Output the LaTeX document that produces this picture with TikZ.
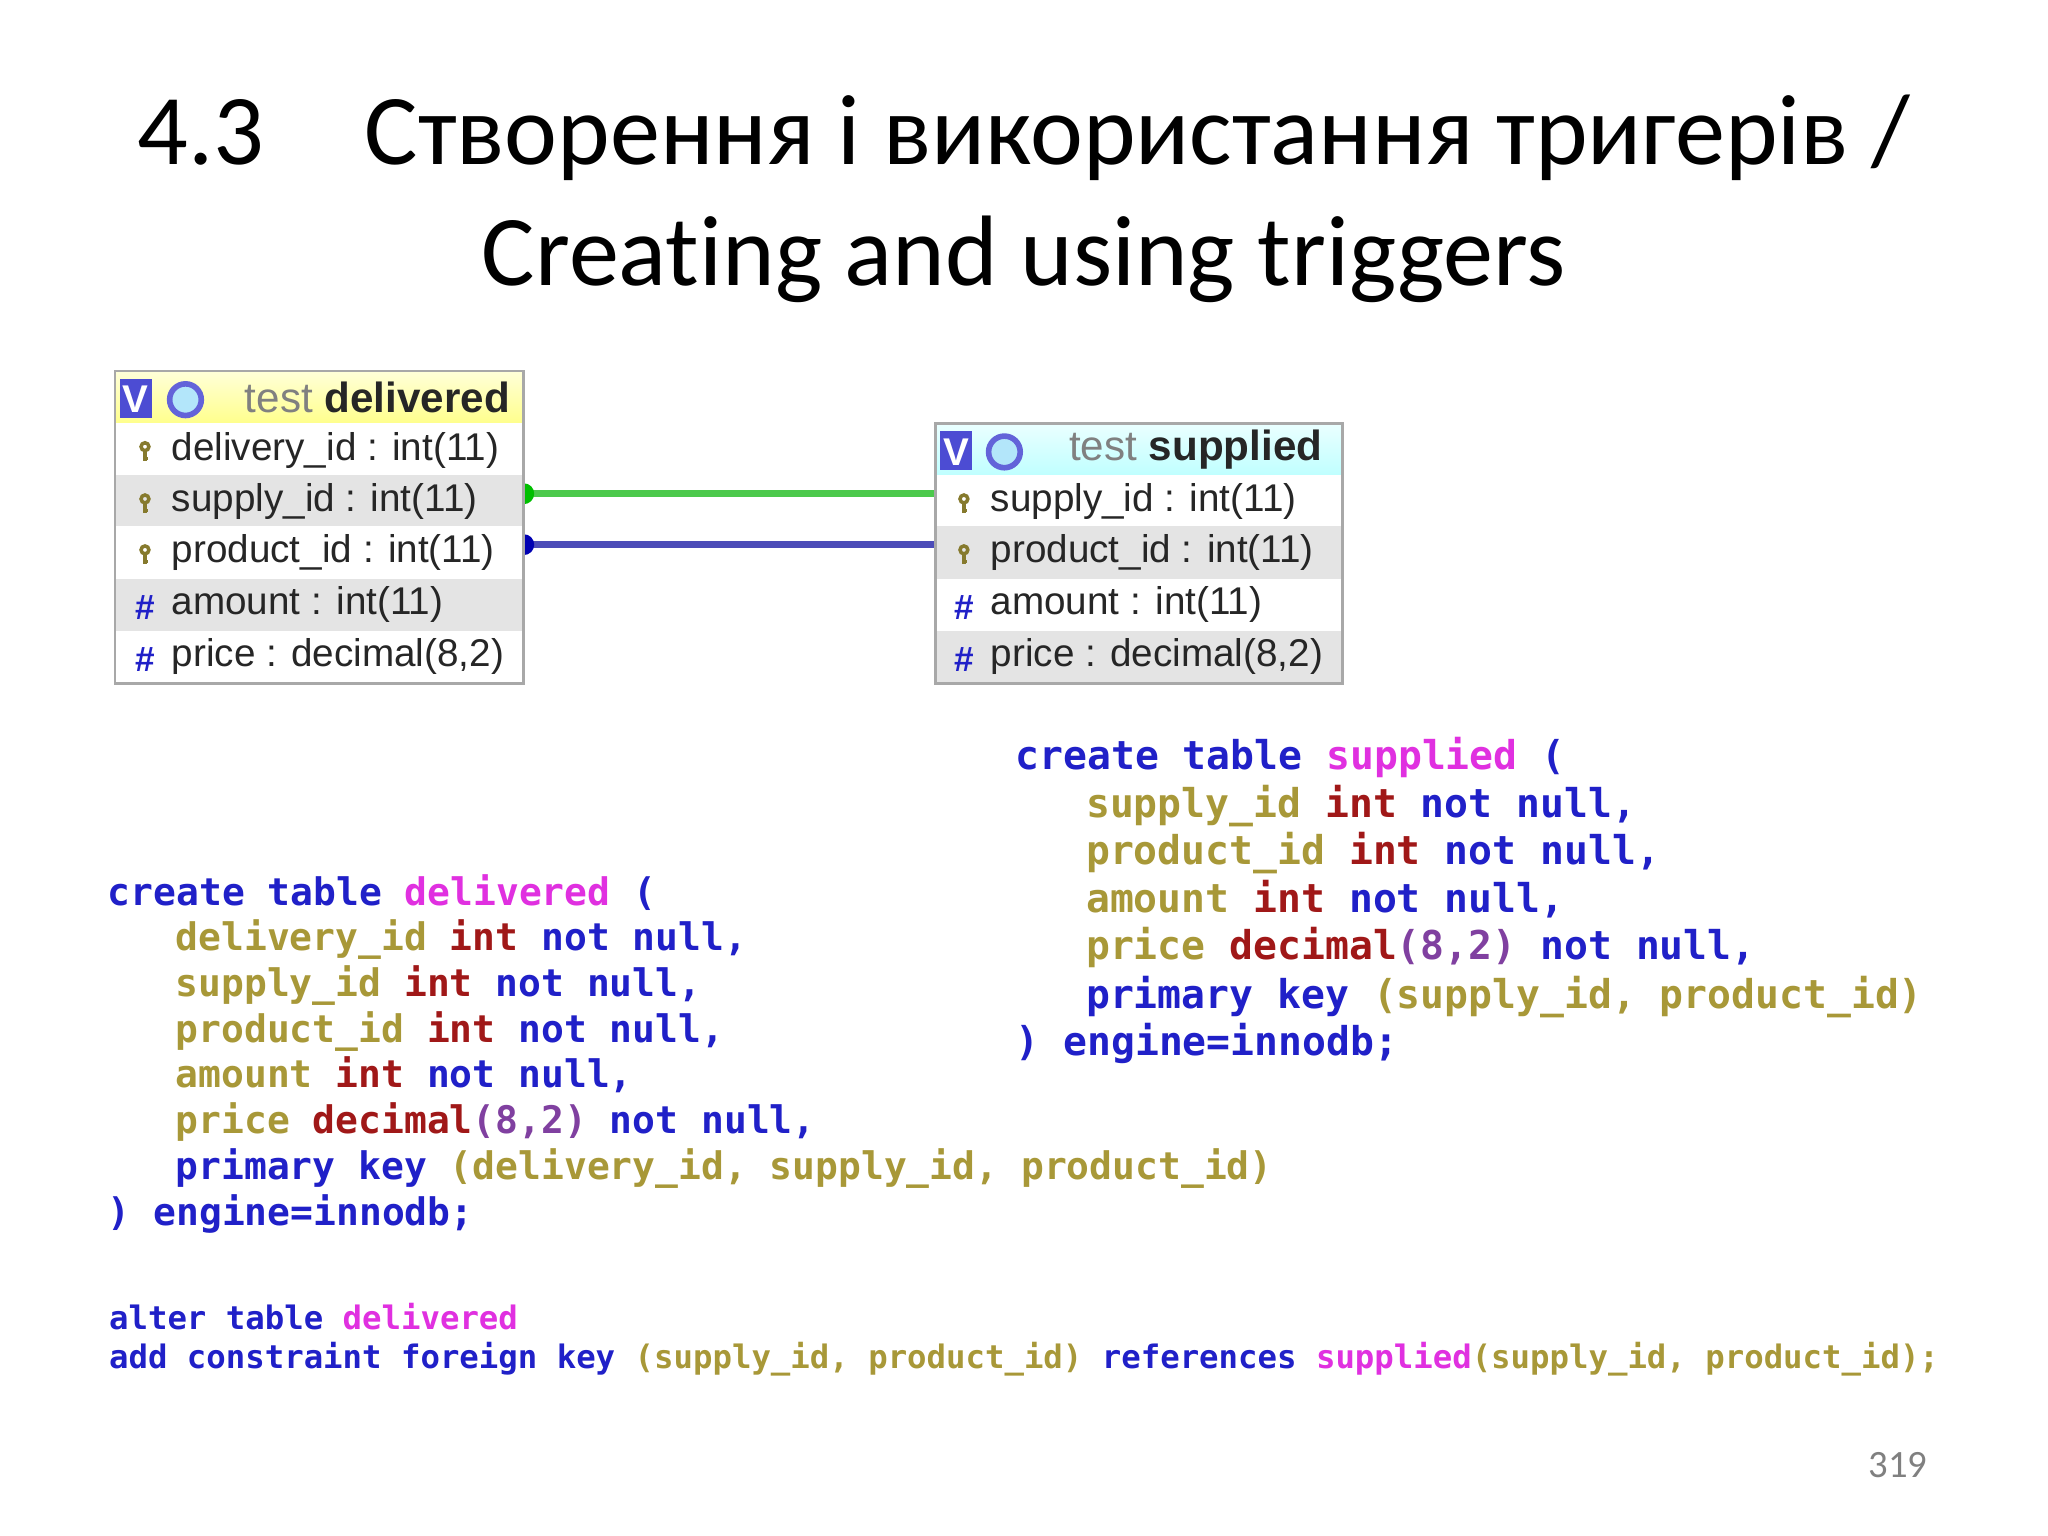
\documentclass[tikz,border=0pt]{standalone}
\usepackage{fontspec}
\setmainfont{Carlito}[Ligatures={NoCommon}]
\newfontfamily\tabfont{Liberation Sans}
\newfontfamily\codefont{DejaVu Sans Mono}
\definecolor{kwc}{HTML}{2020C8}
\definecolor{idc}{HTML}{A89838}
\definecolor{tnc}{HTML}{E030E0}
\definecolor{tyc}{HTML}{A01818}
\definecolor{nmc}{HTML}{8040A0}
\definecolor{rowg}{HTML}{E4E4E4}
\definecolor{brd}{HTML}{A8A8A8}
\newcommand{\kw}[1]{\textcolor{kwc}{#1}}
\newcommand{\idn}[1]{\textcolor{idc}{#1}}
\newcommand{\tn}[1]{\textcolor{tnc}{#1}}
\newcommand{\ty}[1]{\textcolor{tyc}{#1}}
\newcommand{\nm}[1]{\textcolor{nmc}{#1}}
\tikzset{
 cl/.style={anchor=base west,inner sep=0,font=\codefont\bfseries\fontsize{10.8pt}{12pt}\selectfont},
 cls/.style={anchor=base west,inner sep=0,font=\codefont\bfseries\fontsize{11.3pt}{12pt}\selectfont},
 cla/.style={anchor=base west,inner sep=0,font=\codefont\bfseries\fontsize{9.2pt}{11pt}\selectfont},
 rt/.style={anchor=west,inner sep=0,font=\tabfont\fontsize{11pt}{12pt}\selectfont,text=black!85},
 hash/.style={anchor=center,inner sep=0,font=\tabfont\bfseries\fontsize{10pt}{12pt}\selectfont,text=kwc},
 gear/.style={draw=kwc!70,fill=cyan!30,circle,line width=1.6pt,minimum size=9pt,inner sep=0},
}
\newcommand{\keyicon}[1]{\draw[idc!80!black,line width=1pt] (#1) ++(0,-4) circle[radius=3]; \draw[idc!80!black,line width=1pt] (#1) ++(0,-1) -- ++(0,8) ++(0,-2) -- ++(2,0);}
\begin{document}
\begin{tikzpicture}[x=0.01306cm,y=-0.01306cm]
\useasboundingbox (0,0) rectangle (1568,1176);
\fill[white] (0,0) rectangle (1568,1176);
\node[font=\fontsize{28.5pt}{34.5pt}\selectfont,align=center] (title) at (784,152) {4.3\quad Створення і використання тригерів /\\Creating and using triggers};
% connectors (drawn first, tables cover the left half of the dots)
\coordinate (ga) at (401,378); \coordinate (gb) at (716,378);
\coordinate (ba) at (401,417); \coordinate (bb) at (716,417);
\draw[green!70!black!70,line width=2pt] (ga) -- (gb);
\fill[green!75!black] (ga) circle[radius=8];
\draw[blue!60!black!70,line width=2pt] (ba) -- (bb);
\fill[blue!70!black] (ba) circle[radius=8];
% delivered table
\shade[top color=yellow!15,bottom color=yellow!45] (88,284) rectangle (401,324);
\fill[white] (88,324) rectangle (401,364);
\fill[rowg] (88,364) rectangle (401,403);
\fill[white] (88,403) rectangle (401,443);
\fill[rowg] (88,443) rectangle (401,483);
\fill[white] (88,483) rectangle (401,523);
\draw[brd,line width=0.8pt] (88,284) rectangle (401,523);
\fill[kwc!80] (92,290) rectangle (116,320);
\node[text=white,font=\tabfont\bfseries\fontsize{11pt}{12pt}\selectfont] (dv) at (104,306) {V};
\node[gear] (dg) at (142,306) {};
\node[rt,font=\tabfont\fontsize{12pt}{13pt}\selectfont] (dh) at (187,304) {\textcolor{gray}{test} \textbf{delivered}};
\coordinate (k1) at (111,346); \keyicon{k1}
\coordinate (k2) at (111,386); \keyicon{k2}
\coordinate (k3) at (111,425); \keyicon{k3}
\node[rt] (d1) at (131,345) {delivery\_id : int(11)};
\node[rt] (d2) at (131,384) {supply\_id : int(11)};
\node[rt] (d3) at (131,423) {product\_id : int(11)};
\node[hash] (h4) at (111,465) {\#};
\node[rt] (d4) at (131,463) {amount : int(11)};
\node[hash] (h5) at (111,505) {\#};
\node[rt] (d5) at (131,503) {price : decimal(8,2)};
% supplied table
\shade[top color=cyan!8,bottom color=cyan!25] (716,324) rectangle (1028,364);
\fill[white] (716,364) rectangle (1028,403);
\fill[rowg] (716,403) rectangle (1028,443);
\fill[white] (716,443) rectangle (1028,483);
\fill[rowg] (716,483) rectangle (1028,523);
\draw[brd,line width=0.8pt] (716,324) rectangle (1028,523);
\fill[kwc!80] (720,330) rectangle (744,360);
\node[text=white,font=\tabfont\bfseries\fontsize{11pt}{12pt}\selectfont] (sv) at (732,346) {V};
\node[gear] (sg) at (769,346) {};
\node[rt,font=\tabfont\fontsize{12pt}{13pt}\selectfont] (sh) at (818,344) {\textcolor{gray}{test} \textbf{supplied}};
\coordinate (k4) at (738,386); \keyicon{k4}
\coordinate (k5) at (738,425); \keyicon{k5}
\node[rt] (s1) at (758,384) {supply\_id : int(11)};
\node[rt] (s2) at (758,423) {product\_id : int(11)};
\node[hash] (h6) at (738,465) {\#};
\node[rt] (s3) at (758,463) {amount : int(11)};
\node[hash] (h7) at (738,505) {\#};
\node[rt] (s4) at (758,503) {price : decimal(8,2)};
% code delivered
\node[cl] (c1) at (82,693) {\kw{create table} \tn{delivered} \kw{(}};
\node[cl] (c2) at (134,728) {\idn{delivery\_id} \ty{int} \kw{not null,}};
\node[cl] (c3) at (134,763) {\idn{supply\_id} \ty{int} \kw{not null,}};
\node[cl] (c4) at (134,798) {\idn{product\_id} \ty{int} \kw{not null,}};
\node[cl] (c5) at (134,833) {\idn{amount} \ty{int} \kw{not null,}};
\node[cl] (c6) at (134,868) {\idn{price} \ty{decimal}\nm{(8,2)} \kw{not null,}};
\node[cl] (c7) at (134,903) {\kw{primary key} \idn{(delivery\_id, supply\_id, product\_id)}};
\node[cl] (c8) at (82,938) {\kw{) engine=innodb;}};
% code supplied
\node[cls] (e1) at (777,589) {\kw{create table} \tn{supplied} \kw{(}};
\node[cls] (e2) at (831,626) {\idn{supply\_id} \ty{int} \kw{not null,}};
\node[cls] (e3) at (831,662) {\idn{product\_id} \ty{int} \kw{not null,}};
\node[cls] (e4) at (831,699) {\idn{amount} \ty{int} \kw{not null,}};
\node[cls] (e5) at (831,735) {\idn{price} \ty{decimal}\nm{(8,2)} \kw{not null,}};
\node[cls] (e6) at (831,772) {\kw{primary key} \idn{(supply\_id, product\_id)}};
\node[cls] (e7) at (777,808) {\kw{) engine=innodb;}};
% alter
\node[cla] (a1) at (83,1018) {\kw{alter table} \tn{delivered}};
\node[cla] (a2) at (83,1048) {\kw{add constraint foreign key} \idn{(supply\_id, product\_id)} \kw{references} \tn{supplied}\idn{(supply\_id, product\_id);}};
\node[font=\fontsize{11pt}{12pt}\selectfont,text=gray] (pg) at (1453,1122) {319};
\end{tikzpicture}
\end{document}
